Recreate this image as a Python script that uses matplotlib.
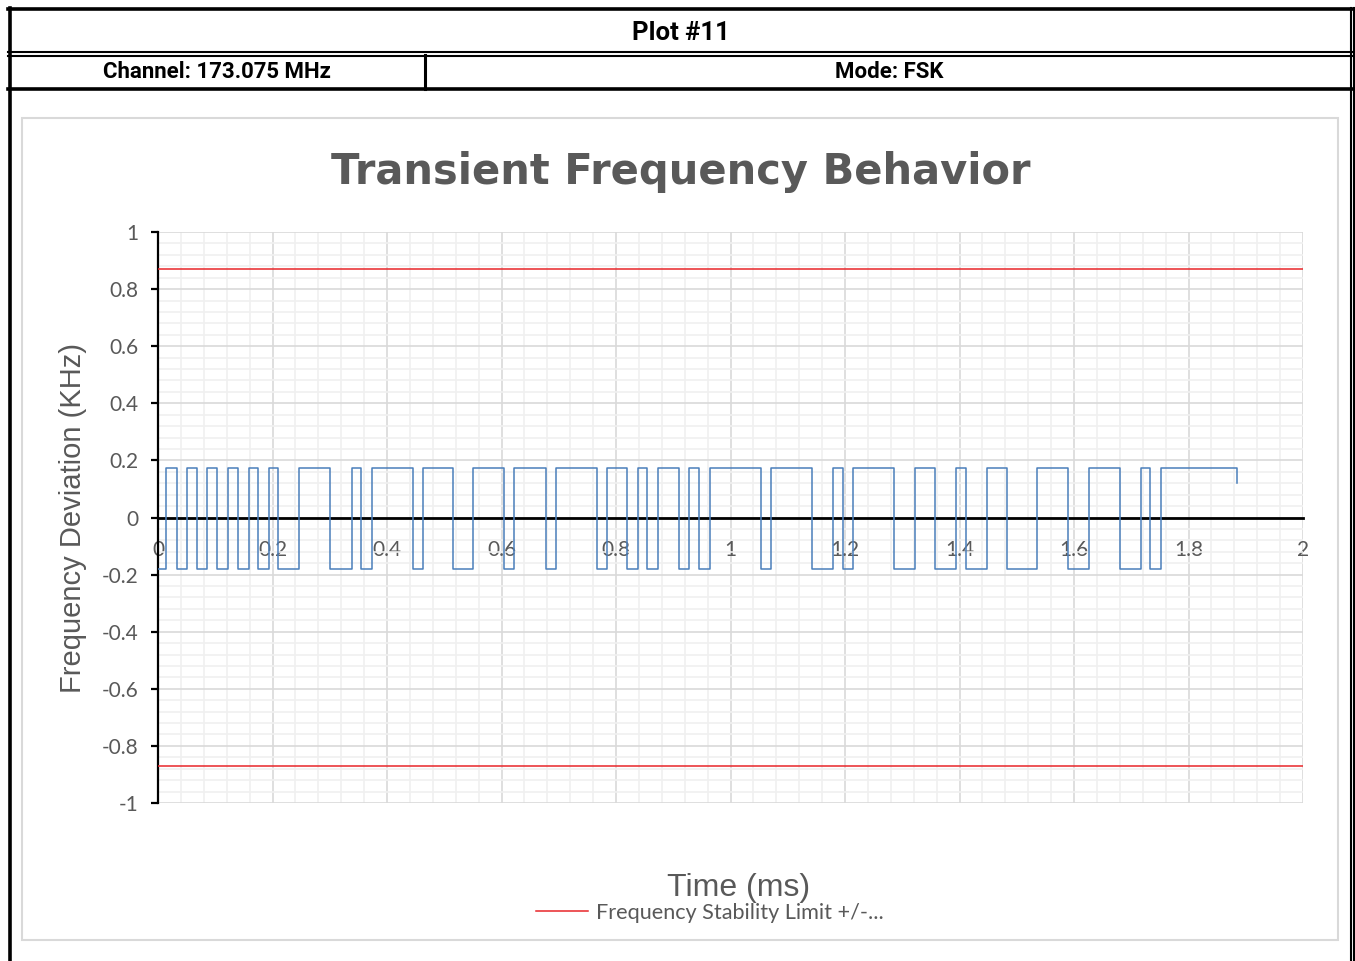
import numpy as np
import matplotlib.pyplot as plt
from matplotlib.lines import Line2D
from matplotlib.patches import Rectangle

# edges of the FSK trace (ms)
edges = [0.014, 0.0337, 0.0501, 0.0676, 0.0861, 0.1025, 0.1228, 0.1403, 0.159, 0.1752,
         0.1944, 0.2101, 0.2468, 0.3004, 0.3383, 0.3541, 0.3733, 0.4459, 0.4624, 0.5148,
         0.5507, 0.6044, 0.6218, 0.6777, 0.6952, 0.7663, 0.7848, 0.8187, 0.8390, 0.8547,
         0.8739, 0.9106, 0.9281, 0.9455, 0.9642, 1.0527, 1.0702, 1.1418, 1.1785, 1.1959,
         1.2145, 1.2856, 1.3223, 1.3572, 1.3939, 1.4114, 1.4475, 1.4825, 1.5359, 1.5900,
         1.6262, 1.6803, 1.7165, 1.7328, 1.7514]
t_end = 1.884
v_end = 0.12
high = 0.175
low = -0.18
limit = 0.87   # frequency stability limit (KHz)

x_ticks = [0, 0.2, 0.4, 0.6, 0.8, 1, 1.2, 1.4, 1.6, 1.8, 2]
x_labels = ['0', '0.2', '0.4', '0.6', '0.8', '1', '1.2', '1.4', '1.6', '1.8', '2']
y_ticks = [-1, -0.8, -0.6, -0.4, -0.2, 0, 0.2, 0.4, 0.6, 0.8, 1]
y_labels = ['-1', '-0.8', '-0.6', '-0.4', '-0.2', '0', '0.2', '0.4', '0.6', '0.8', '1']

# step trace: starts low, flips at every edge
t = [0.0] + edges + [t_end]
lev = [low if i % 2 == 0 else high for i in range(len(edges) + 1)] + [v_end]

W, H = 1355, 961
fig = plt.figure(figsize=(W / 100, H / 100), dpi=100)
fig.patch.set_facecolor('white')

def fx(px):
    return px / W

def fy(py):
    return 1 - py / H

def hline(y, x0, x1, lw):
    fig.add_artist(Line2D([fx(x0), fx(x1)], [fy(y), fy(y)], color='black', lw=lw,
                          transform=fig.transFigure))

def vline(x, y0, y1, lw):
    fig.add_artist(Line2D([fx(x), fx(x)], [fy(y0), fy(y1)], color='black', lw=lw,
                          transform=fig.transFigure))

# report frame
hline(9, 8, 1355, 2.6)
vline(9.5, 8, 961, 2.6)
vline(1351, 8, 961, 1.5)
vline(1354, 8, 961, 1.5)
hline(52, 8, 1355, 1.5)
hline(55.5, 8, 1355, 1.5)
hline(89, 8, 1355, 2.6)
vline(425, 55, 89, 2.2)

hdr = dict(family=['Roboto', 'DejaVu Sans'], weight='bold', color='black')
fig.text(fx(681), fy(33), 'Plot #11', ha='center', va='center', fontsize=18.5, **hdr)
fig.text(fx(217), fy(72), 'Channel: 173.075 MHz', ha='center', va='center', fontsize=16, **hdr)
fig.text(fx(889), fy(72), 'Mode: FSK', ha='center', va='center', fontsize=16, **hdr)

# chart area border
fig.add_artist(Rectangle((fx(22), fy(940)), fx(1338) - fx(22), fy(118) - fy(940),
                         fill=False, edgecolor='#d9d9d9', lw=1.5, transform=fig.transFigure))

ax = fig.add_axes([fx(158), fy(803), fx(1303) - fx(158), fy(232) - fy(803)])
ax.set_xlim(0, 2)
ax.set_ylim(-1, 1)

ax.set_xticks(np.arange(0, 2.001, 0.04), minor=True)
ax.set_yticks(np.arange(-1, 1.001, 0.04), minor=True)
ax.grid(which='minor', color='#f0f0f0', lw=1.2, zorder=0)
ax.grid(which='major', color='#d9d9d9', lw=1.2, zorder=0)
ax.tick_params(which='minor', length=0)

ax.set_xticks(x_ticks)
ax.set_xticklabels(x_labels)
ax.set_yticks(y_ticks)
ax.set_yticklabels(y_labels)

for s in ['top', 'right']:
    ax.spines[s].set_visible(False)
ax.spines['bottom'].set_position(('data', 0))
ax.spines['bottom'].set_linewidth(2)
ax.spines['left'].set_linewidth(1.6)

ax.tick_params(axis='x', length=0, pad=16, labelsize=15, labelcolor='#595959')
ax.tick_params(axis='y', length=5, width=1.6, direction='out', pad=9,
               labelsize=15, labelcolor='#595959')
for lab in ax.get_xticklabels() + ax.get_yticklabels():
    lab.set_family(['Lato', 'DejaVu Sans'])

ax.plot([0, 2], [limit, limit], color='#e8262a', lw=1.1, zorder=3,
        label='Frequency Stability Limit +/-...')
ax.plot([0, 2], [-limit, -limit], color='#e8262a', lw=1.1, zorder=3)
ax.step(t, lev, where='post', color='#4a7ebb', lw=1.1, zorder=4)

fig.text(fx(681), fy(172), 'Transient Frequency Behavior', ha='center', va='center',
         fontsize=30, weight='bold', color='#595959', family=['DejaVu Sans'])
fig.text(fx(73), fy(518), 'Frequency Deviation (KHz)', rotation=90, ha='center',
         va='center', fontsize=21, color='#595959', family=['Liberation Sans', 'DejaVu Sans'])
fig.text(fx(739), fy(888), 'Time (ms)', ha='center', va='center', fontsize=23,
         color='#595959', family=['Liberation Sans', 'DejaVu Sans'])

leg = fig.legend(loc='center', bbox_to_anchor=(fx(710), fy(913)), frameon=False,
                 prop={'family': ['Lato', 'DejaVu Sans'], 'size': 15.6},
                 handlelength=2.4, handletextpad=0.35, borderpad=0)
for txt in leg.get_texts():
    txt.set_color('#595959')

fig.savefig('out.png', dpi=100)
